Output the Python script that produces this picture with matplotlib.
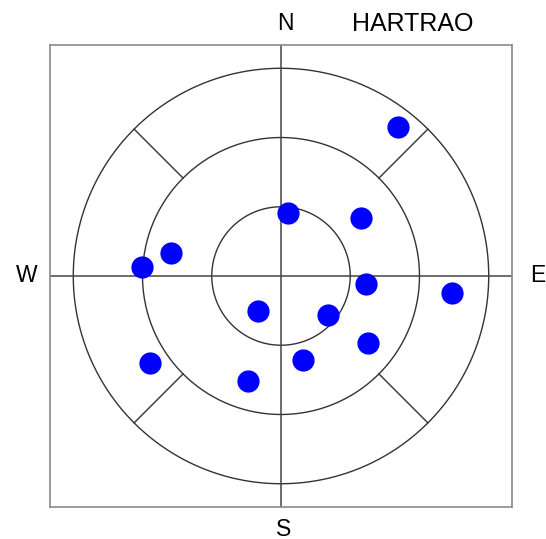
import numpy as np
from matplotlib import pyplot as plt

# station sky plot: azimuth (deg, from N through E) and elevation (deg)
station = "HARTRAO"
azimuth = [38.1, 6.7, 53.9, 281.6, 273.8, 95.6, 95.8, 213.3, 129.9, 127.6, 165.1, 236.3, 197.6]
elevation = [7.9, 62.3, 47.3, 41.2, 29.8, 53.0, 15.5, 71.8, 63.6, 42.6, 52.3, 21.9, 42.3]
ring_elev = [60, 30, 0]
spoke_az = [45, 135, 225, 315]


def sky_xy(az, el):
    """Map azimuth/elevation to plot coordinates (zenith at the centre)."""
    az = np.radians(np.asarray(az))
    r = (90 - np.asarray(el)) / 90.0
    return r * np.sin(az), r * np.cos(az)


fig = plt.figure(figsize=(5.46, 5.39), dpi=100)
ax = fig.add_axes([50/546, 32/539, 462/546, 462/539])
lim = 1.112
ax.set_xlim(-lim, lim)
ax.set_ylim(-lim, lim)
ax.set_xticks([])
ax.set_yticks([])
for s in ax.spines.values():
    s.set_color("#8a8a8a")
    s.set_linewidth(1.2)

theta = np.linspace(0, 2*np.pi, 400)
for el in ring_elev:
    r = (90 - el) / 90.0
    ax.plot(r*np.cos(theta), r*np.sin(theta), color="#333333", lw=1.0)

ax.axhline(0, color="#444444", lw=1.1)
ax.axvline(0, color="#444444", lw=1.1)

for a in spoke_az:
    x, y = sky_xy([a, a], [30, 0])
    ax.plot(x, y, color="#333333", lw=1.0)

x, y = sky_xy(azimuth, elevation)
ax.plot(x, y, "o", color="#0000ff", markersize=16, markeredgewidth=0, zorder=5)

fam = ["Liberation Sans", "DejaVu Sans"]
fig.text(285/546, 1 - 23/539, "N", ha="center", va="center", fontsize=16.5, family=fam)
fig.text(284/546, 1 - 529/539, "S", ha="center", va="center", fontsize=16.5, family=fam)
fig.text(26.5/546, 1 - 276/539, "W", ha="center", va="center", fontsize=16.5, family=fam)
fig.text(538/546, 1 - 276/539, "E", ha="center", va="center", fontsize=16.5, family=fam)
fig.text(413/546, 1 - 24/539, station, ha="center", va="center", fontsize=18, family=fam)

fig.savefig("out.png", dpi=100)
